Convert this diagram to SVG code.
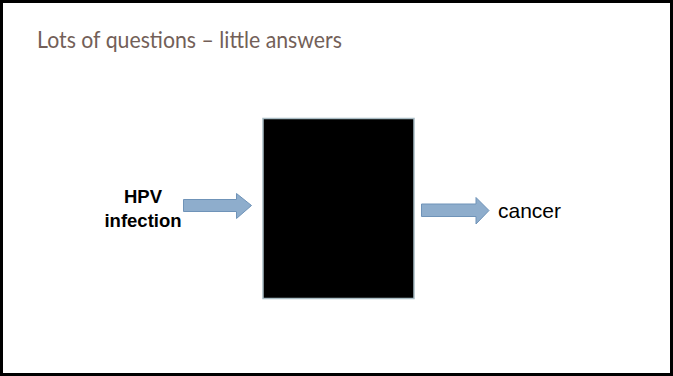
<svg xmlns="http://www.w3.org/2000/svg" width="673" height="376" viewBox="0 0 673 376">
  <style>
    .title { font-family: "Lato", "Open Sans", sans-serif; font-size: 23px; fill: #735f58; }
    .lbl { font-family: "Liberation Sans", Arial, sans-serif; fill: #000; }
    .arrow { fill: #8eadcc; stroke: #6f93b8; stroke-width: 1; }
  </style>
  <rect x="0" y="0" width="673" height="376" fill="#fff"/>
  <rect x="1.5" y="1.5" width="670" height="373" fill="none" stroke="#000" stroke-width="3"/>
  <text class="title" x="37" y="48" textLength="305" lengthAdjust="spacingAndGlyphs">Lots of questions – little answers</text>

  <g id="box">
    <rect x="263" y="118.5" width="151" height="180" fill="#000" stroke="#a9bcc4" stroke-width="1.5"/>
  </g>

  <g id="hpv">
    <text class="lbl" x="143" y="202.5" font-size="18.5" font-weight="bold" text-anchor="middle">HPV</text>
    <text class="lbl" x="143" y="226.5" font-size="18.5" font-weight="bold" text-anchor="middle">infection</text>
  </g>

  <g id="cancer">
    <text class="lbl" x="498" y="217.5" font-size="21">cancer</text>
  </g>

  <g id="connectors">
    <path class="arrow" d="M183.5,199.5 H236.5 V193.5 L251.5,205.5 L236.5,218.5 V211.5 H183.5 Z"/>
    <path class="arrow" d="M421.5,204 H476 V197.5 L489,210.5 L476,224 V216.5 H421.5 Z"/>
  </g>
</svg>
